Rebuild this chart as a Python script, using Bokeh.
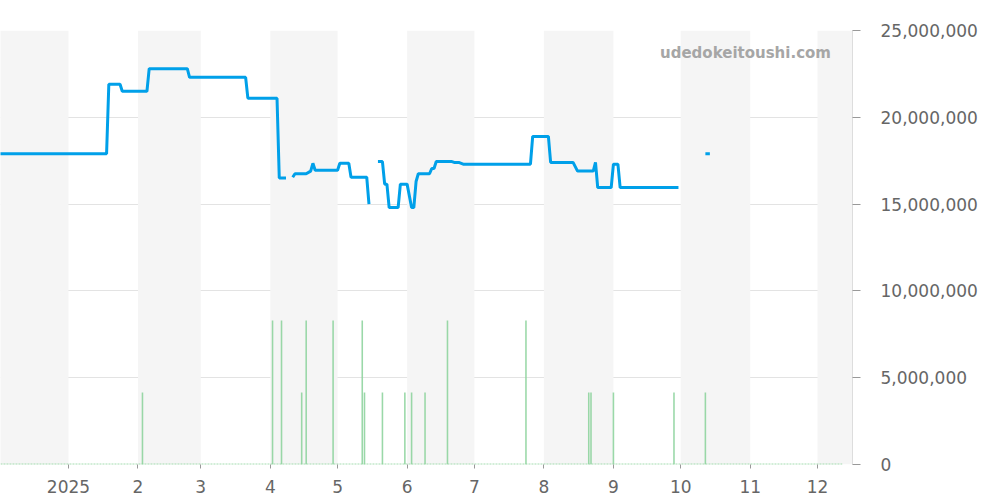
import datetime as dt
from bokeh.plotting import figure
from bokeh.models import (Range1d, FixedTicker, NumeralTickFormatter, BoxAnnotation,
                          Label, ColumnDataSource)
from bokeh.embed import file_html
from bokeh.resources import INLINE

NaN = float("nan")

# ---- price series (JPY), NaN = no data ----
price_dates = [
    "2024-11-25", "2025-01-18", "2025-01-19", "2025-01-24", "2025-01-25",
    "2025-02-05", "2025-02-06", "2025-02-23", "2025-02-24", "2025-03-21",
    "2025-03-22", "2025-04-04", "2025-04-05", "2025-04-08", "2025-04-09",
    "2025-04-11", "2025-04-12", "2025-04-17", "2025-04-19", "2025-04-20",
    "2025-04-21", "2025-05-01", "2025-05-02", "2025-05-06", "2025-05-07",
    "2025-05-14", "2025-05-15", "2025-05-16",
    "2025-05-19", "2025-05-21", "2025-05-22", "2025-05-23", "2025-05-24",
    "2025-05-28", "2025-05-29", "2025-06-01", "2025-06-03", "2025-06-04",
    "2025-06-05", "2025-06-06", "2025-06-11", "2025-06-12", "2025-06-13",
    "2025-06-14", "2025-06-21", "2025-06-22", "2025-06-24", "2025-06-26",
    "2025-07-26", "2025-07-27", "2025-08-03", "2025-08-04", "2025-08-14",
    "2025-08-16", "2025-08-23", "2025-08-24", "2025-08-25", "2025-08-31",
    "2025-09-01", "2025-09-03", "2025-09-04", "2025-09-30", "2025-10-01",
    "2025-10-12", "2025-10-14",
]
price_values = [
    17_900_000, 17_900_000, 21_900_000, 21_900_000, 21_500_000,
    21_500_000, 22_800_000, 22_800_000, 22_300_000, 22_300_000,
    21_100_000, 21_100_000, 16_500_000, 16_500_000, NaN,
    16_550_000, 16_750_000, 16_750_000, 16_900_000, 17_350_000,
    16_950_000, 16_950_000, 17_350_000, 17_350_000, 16_550_000,
    16_550_000, 15_000_000, NaN,
    17_450_000, 17_450_000, 16_150_000, 16_150_000, 14_800_000,
    14_800_000, 16_150_000, 16_150_000, 14_800_000, 14_800_000,
    16_300_000, 16_750_000, 16_750_000, 17_050_000, 17_050_000,
    17_450_000, 17_450_000, 17_400_000, 17_400_000, 17_300_000,
    17_300_000, 18_900_000, 18_900_000, 17_400_000, 17_400_000,
    16_900_000, 16_900_000, 17_400_000, 15_950_000, 15_950_000,
    17_300_000, 17_300_000, 15_950_000, 15_950_000, NaN,
    17_900_000, 17_900_000,
]

# ---- trade counts ----
vol_dates = [
    "2025-02-03", "2025-04-02", "2025-04-06", "2025-04-15", "2025-04-17",
    "2025-04-29", "2025-05-12", "2025-05-13", "2025-05-21", "2025-05-31",
    "2025-06-03", "2025-06-09", "2025-06-19", "2025-07-24", "2025-08-21",
    "2025-08-22", "2025-09-01", "2025-09-28", "2025-10-12",
]
vol_counts = [1, 2, 2, 1, 2, 2, 2, 1, 1, 1, 1, 1, 2, 2, 1, 1, 1, 1, 1]
vol_span = ["2024-11-25", "2025-12-12"]

# ---- month ticks ----
month_starts = ["2024-12-01", "2025-01-01", "2025-02-01", "2025-03-01", "2025-04-01",
                "2025-05-01", "2025-06-01", "2025-07-01", "2025-08-01", "2025-09-01",
                "2025-10-01", "2025-11-01", "2025-12-01", "2026-01-01"]
month_labels = ["12", "2025", "2", "3", "4", "5", "6", "7", "8", "9", "10", "11", "12", ""]

y_ticks = [0, 5_000_000, 10_000_000, 15_000_000, 20_000_000, 25_000_000]


def ms(s):
    return dt.datetime.fromisoformat(s).replace(tzinfo=dt.timezone.utc).timestamp() * 1000.0


DAY = 86_400_000.0

p = figure(width=1000, height=500, x_axis_type="datetime", y_axis_location="right",
           output_backend="svg", toolbar_location=None,
           min_border_left=0, min_border_right=148, min_border_top=30, min_border_bottom=36,
           x_range=Range1d(ms("2024-12-01") + 0.7 * DAY, ms("2025-12-16") + 0.6 * DAY),
           y_range=Range1d(0, 25_000_000))
p.outline_line_color = None
p.background_fill_color = "white"
p.border_fill_color = "white"

# month bands
for i in range(0, len(month_starts) - 1, 2):
    p.add_layout(BoxAnnotation(left=ms(month_starts[i]), right=ms(month_starts[i + 1]),
                               fill_color="#f5f5f5", fill_alpha=1.0, line_color=None,
                               level="underlay"))

p.xgrid.grid_line_color = None
p.ygrid.grid_line_color = "#e3e3e3"
p.ygrid.grid_line_width = 1

# volume
p.extra_y_ranges = {"vol": Range1d(0, 25 / 4.15)}
p.line(x=[ms(d) for d in vol_span], y=[0, 0], y_range_name="vol",
       line_color="#8fd49f", line_width=2, line_dash="2 1", line_alpha=0.8)
vsrc = ColumnDataSource(dict(x=[ms(d) for d in vol_dates], top=vol_counts))
p.vbar(x="x", top="top", width=0.7 * DAY, source=vsrc, y_range_name="vol",
       fill_color="#8fd49f", line_color=None, fill_alpha=0.9)

# price
psrc = ColumnDataSource(dict(x=[ms(d) for d in price_dates], y=price_values))
p.line(x="x", y="y", source=psrc, line_color="#00a0e9", line_width=3)

# axes
xa = p.xaxis[0]
tick_ms = [ms(d) for d in month_starts]
xa.ticker = FixedTicker(ticks=tick_ms)
xa.major_label_overrides = {t: l for t, l in zip(tick_ms, month_labels)}
xa.axis_line_color = None
xa.major_tick_line_color = "#999999"
xa.major_tick_out = 4
xa.major_tick_in = 0
xa.minor_tick_line_color = None
xa.major_label_text_font = "DejaVu Sans"
xa.major_label_text_font_size = "17px"
xa.major_label_text_color = "#666666"
xa.major_label_standoff = 11

ya = p.yaxis[0]
ya.ticker = FixedTicker(ticks=y_ticks)
ya.formatter = NumeralTickFormatter(format="0,0")
ya.axis_line_color = "#dddddd"
ya.major_tick_line_color = "#999999"
ya.major_tick_out = 8
ya.major_tick_in = 0
ya.minor_tick_line_color = None
ya.major_label_text_font = "DejaVu Sans"
ya.major_label_text_font_size = "17px"
ya.major_label_text_color = "#666666"
ya.major_label_standoff = 20

p.add_layout(Label(x=ms("2025-12-07"), y=23_700_000, text="udedokeitoushi.com",
                   text_align="right", text_baseline="middle",
                   text_font="DejaVu Sans", text_font_style="bold",
                   text_font_size="15px", text_color="#a6a6a6"))

open("out.html", "w").write(file_html(p, INLINE))
